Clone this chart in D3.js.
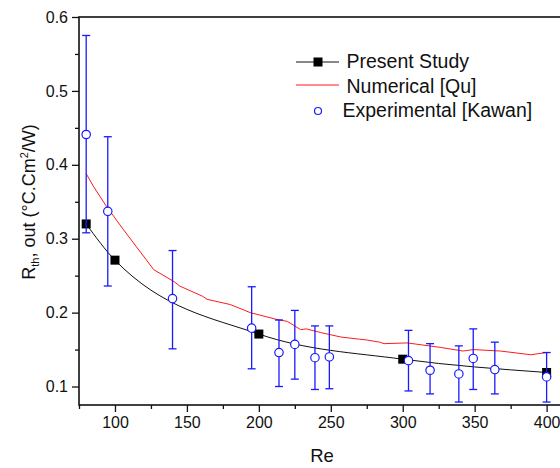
<!DOCTYPE html>
<html>
<head>
<meta charset="utf-8">
<script src="https://cdn.jsdelivr.net/npm/d3@7"></script>
<style>
  body { margin: 0; background: #fff; }
  text { font-family: "Liberation Sans", Arial, sans-serif; fill: #111; }
</style>
</head>
<body>
<script>
  /***** Data *****/
  var presentRe = [80, 100, 200, 300, 400];
  var presentR = [0.320, 0.271, 0.171, 0.137, 0.119];

  var quRe = [80, 85, 94, 106, 127, 141, 145, 161, 164, 180, 189, 194, 212, 220, 229, 233, 243, 257, 270, 275, 284, 287, 303, 326, 342, 349, 368, 389, 400];
  var quR = [0.388, 0.371, 0.344, 0.312, 0.258, 0.242, 0.236, 0.222, 0.218, 0.211, 0.204, 0.200, 0.191, 0.188, 0.177, 0.178, 0.173, 0.167, 0.164, 0.163, 0.160, 0.158, 0.159, 0.153, 0.148, 0.150, 0.148, 0.143, 0.146];

  var kawanRe = [80, 95, 140, 195, 214, 225, 239, 249, 304, 319, 339, 349, 364, 400];
  var kawanR = [0.441, 0.337, 0.219, 0.179, 0.146, 0.157, 0.139, 0.140, 0.135, 0.122, 0.117, 0.138, 0.123, 0.113];
  var kawanHigh = [0.575, 0.438, 0.284, 0.235, 0.190, 0.203, 0.182, 0.182, 0.176, 0.158, 0.155, 0.178, 0.160, 0.146];
  var kawanLow = [0.308, 0.236, 0.151, 0.124, 0.100, 0.110, 0.096, 0.097, 0.094, 0.090, 0.079, 0.096, 0.090, 0.079];

  var xTicks = [100, 150, 200, 250, 300, 350, 400];
  var xMinor = [75, 125, 175, 225, 275, 325, 375];
  var yTicks = [0.1, 0.2, 0.3, 0.4, 0.5, 0.6];
  var yMinor = [0.15, 0.25, 0.35, 0.45, 0.55];

  var legendLabels = ["Present Study", "Numerical [Qu]", "Experimental [Kawan]"];

(function (d3) {
  "use strict";

  /***** Configuration *****/
  var W = 560, H = 468;
  var plotLeft = 79, plotTop = 17, plotRight = 561, plotBottom = 405;

  var x = d3.scaleLinear().domain([75, 410]).range([plotLeft, plotRight]);
  var y = d3.scaleLinear().domain([0.075, 0.6]).range([plotBottom, plotTop]);

  var svg = d3.select("body").append("svg")
    .attr("width", W)
    .attr("height", H);

  var blue = "#1a1aff";

  /***** Axes *****/
  svg.append("g")
    .attr("transform", "translate(0," + plotBottom + ")")
    .call(d3.axisBottom(x).tickValues(xTicks).tickSize(7).tickPadding(5).tickFormat(d3.format("d")));
  svg.append("g")
    .attr("transform", "translate(0," + plotBottom + ")")
    .call(d3.axisBottom(x).tickValues(xMinor).tickSize(4).tickFormat(""));

  svg.append("g")
    .attr("transform", "translate(" + plotLeft + ",0)")
    .call(d3.axisLeft(y).tickValues(yTicks).tickSize(7).tickPadding(4).tickFormat(d3.format(".1f")));
  svg.append("g")
    .attr("transform", "translate(" + plotLeft + ",0)")
    .call(d3.axisLeft(y).tickValues(yMinor).tickSize(4).tickFormat(""));

  svg.selectAll(".domain").remove();
  svg.selectAll(".tick line").attr("stroke", "#111").attr("stroke-width", 1.3);
  svg.selectAll(".tick text").attr("font-size", 16).attr("fill", "#111")
    .style("font-family", "'Liberation Sans', Arial, sans-serif");

  // frame
  svg.append("rect")
    .attr("x", plotLeft).attr("y", plotTop)
    .attr("width", plotRight - plotLeft).attr("height", plotBottom - plotTop)
    .attr("fill", "none").attr("stroke", "#111").attr("stroke-width", 1.6);

  /***** Axis titles *****/
  svg.append("text")
    .attr("x", 322).attr("y", 462)
    .attr("text-anchor", "middle")
    .attr("font-size", 18.5)
    .text("Re");

  var yLabel = svg.append("text")
    .attr("transform", "translate(35,202) rotate(-90)")
    .attr("text-anchor", "middle")
    .attr("font-size", 18);
  yLabel.append("tspan").text("R");
  yLabel.append("tspan").attr("font-size", 11).attr("dy", 4).text("th");
  yLabel.append("tspan").attr("dy", -4).text(", out (°C.Cm");
  yLabel.append("tspan").attr("font-size", 11).attr("dy", -7).text("2");
  yLabel.append("tspan").attr("dy", 7).text("/W)");

  /***** Lines *****/
  var quData = quRe.map(function (d, i) { return [d, quR[i]]; });
  var presentData = presentRe.map(function (d, i) { return [d, presentR[i]]; });

  var lineLinear = d3.line().x(function (d) { return x(d[0]); }).y(function (d) { return y(d[1]); });
  var lineSmooth = d3.line().curve(d3.curveMonotoneX)
    .x(function (d) { return x(d[0]); }).y(function (d) { return y(d[1]); });

  svg.append("path").datum(quData)
    .attr("d", lineLinear)
    .attr("fill", "none").attr("stroke", "#ff1a1a").attr("stroke-width", 1);

  svg.append("path").datum(presentData)
    .attr("d", lineSmooth)
    .attr("fill", "none").attr("stroke", "#111").attr("stroke-width", 1);

  svg.selectAll("rect.square").data(presentData).enter().append("rect")
    .attr("class", "square")
    .attr("x", function (d) { return x(d[0]) - 4.5; })
    .attr("y", function (d) { return y(d[1]) - 4.5; })
    .attr("width", 9).attr("height", 9)
    .attr("fill", "#000");

  /***** Error bars and circles *****/
  var kawan = kawanRe.map(function (d, i) {
    return { re: d, r: kawanR[i], hi: kawanHigh[i], lo: kawanLow[i] };
  });

  var eb = svg.selectAll("g.err").data(kawan).enter().append("g").attr("class", "err")
    .attr("stroke", blue).attr("stroke-width", 1.3);
  eb.append("line")
    .attr("x1", function (d) { return x(d.re); }).attr("x2", function (d) { return x(d.re); })
    .attr("y1", function (d) { return y(d.hi); }).attr("y2", function (d) { return y(d.lo); });
  eb.append("line")
    .attr("x1", function (d) { return x(d.re) - 4; }).attr("x2", function (d) { return x(d.re) + 4; })
    .attr("y1", function (d) { return y(d.hi); }).attr("y2", function (d) { return y(d.hi); });
  eb.append("line")
    .attr("x1", function (d) { return x(d.re) - 4; }).attr("x2", function (d) { return x(d.re) + 4; })
    .attr("y1", function (d) { return y(d.lo); }).attr("y2", function (d) { return y(d.lo); });

  svg.selectAll("circle.kawan").data(kawan).enter().append("circle")
    .attr("class", "kawan")
    .attr("cx", function (d) { return x(d.re); })
    .attr("cy", function (d) { return y(d.r); })
    .attr("r", 4.2)
    .attr("fill", "#fff").attr("stroke", blue).attr("stroke-width", 1.2);

  /***** Legend *****/
  var legend = svg.append("g");
  var rowY = [62, 86, 111];
  var baseY = [68, 93, 117];

  legend.append("line").attr("x1", 296).attr("x2", 339).attr("y1", rowY[0]).attr("y2", rowY[0])
    .attr("stroke", "#111").attr("stroke-width", 1);
  legend.append("rect").attr("x", 313.5).attr("y", rowY[0] - 4.5).attr("width", 9).attr("height", 9).attr("fill", "#000");
  legend.append("line").attr("x1", 296).attr("x2", 339).attr("y1", rowY[1] - 1).attr("y2", rowY[1] - 1)
    .attr("stroke", "#ff1a1a").attr("stroke-width", 1);
  legend.append("circle").attr("cx", 318).attr("cy", rowY[2]).attr("r", 3.5)
    .attr("fill", "#fff").attr("stroke", blue).attr("stroke-width", 1.2);

  legend.selectAll("text").data(legendLabels).enter().append("text")
    .attr("x", function (d, i) { return i === 2 ? 342.5 : 346.5; })
    .attr("y", function (d, i) { return baseY[i]; })
    .attr("font-size", 19.5)
    .text(function (d) { return d; });
})(d3);
</script>
</body>
</html>
